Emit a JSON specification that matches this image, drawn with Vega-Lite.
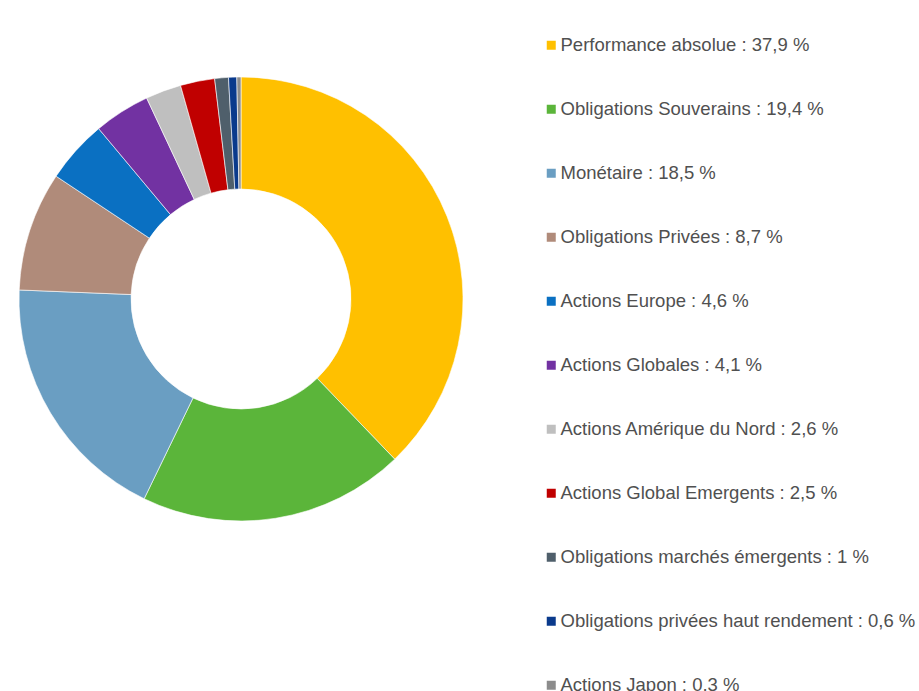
{
  "$schema": "https://vega.github.io/schema/vega-lite/v6.json",
  "autosize": {"type": "none"},
  "width": 482,
  "height": 598,
  "padding": {"left": 0, "top": 0, "right": 437, "bottom": 93},
  "background": "white",
  "config": {"view": {"stroke": null}, "font": "Liberation Sans"},
  "data": {"values": [
    {"order": 1, "label": "Performance absolue : 37,9 %", "value": 37.9},
    {"order": 2, "label": "Obligations Souverains : 19,4 %", "value": 19.4},
    {"order": 3, "label": "Monétaire : 18,5 %", "value": 18.5},
    {"order": 4, "label": "Obligations Privées : 8,7 %", "value": 8.7},
    {"order": 5, "label": "Actions Europe : 4,6 %", "value": 4.6},
    {"order": 6, "label": "Actions Globales : 4,1 %", "value": 4.1},
    {"order": 7, "label": "Actions Amérique du Nord : 2,6 %", "value": 2.6},
    {"order": 8, "label": "Actions Global Emergents : 2,5 %", "value": 2.5},
    {"order": 9, "label": "Obligations marchés émergents : 1 %", "value": 1.0},
    {"order": 10, "label": "Obligations privées haut rendement : 0,6 %", "value": 0.6},
    {"order": 11, "label": "Actions Japon : 0,3 %", "value": 0.3}
  ]},
  "mark": {"type": "arc", "outerRadius": 222, "innerRadius": 110, "stroke": "white", "strokeWidth": 0.6},
  "encoding": {
    "theta": {"field": "value", "type": "quantitative", "stack": true},
    "order": {"field": "order", "type": "quantitative", "sort": "ascending"},
    "color": {
      "field": "label",
      "type": "nominal",
      "scale": {
        "domain": [
          "Performance absolue : 37,9 %",
          "Obligations Souverains : 19,4 %",
          "Monétaire : 18,5 %",
          "Obligations Privées : 8,7 %",
          "Actions Europe : 4,6 %",
          "Actions Globales : 4,1 %",
          "Actions Amérique du Nord : 2,6 %",
          "Actions Global Emergents : 2,5 %",
          "Obligations marchés émergents : 1 %",
          "Obligations privées haut rendement : 0,6 %",
          "Actions Japon : 0,3 %"
        ],
        "range": ["#FFC000", "#5BB53A", "#6A9EC2", "#B08B7A", "#0A70C2", "#7232A2", "#BFBFBF", "#C00000", "#4F5F6B", "#0A3A8C", "#8C8C8C"]
      },
      "legend": {
        "title": null,
        "orient": "none",
        "legendX": 542,
        "legendY": 36,
        "symbolType": "square",
        "symbolSize": 81,
        "symbolStrokeWidth": 0,
        "labelFontSize": 18.5,
        "labelColor": "#505050",
        "labelFont": "Liberation Sans",
        "labelOffset": 0,
        "rowPadding": 45,
        "labelLimit": 500
      }
    }
  }
}
